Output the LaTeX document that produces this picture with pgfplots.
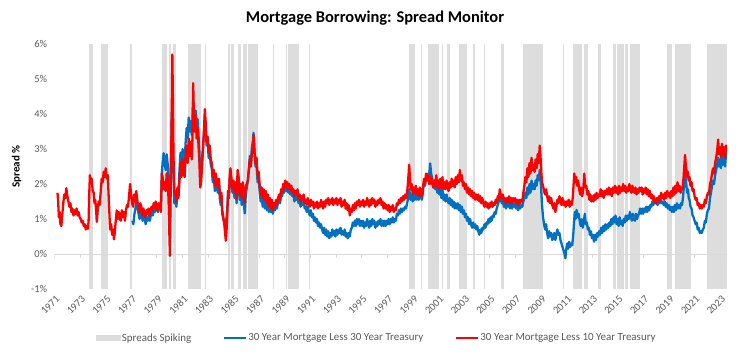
\documentclass[border=0pt]{standalone}
\usepackage{pgfplots}
\usepackage{pgfplotstable}
\pgfplotsset{compat=1.18}
\usepackage{fontspec}
\setmainfont{Carlito}
\definecolor{spk}{HTML}{DDDDDD}
\definecolor{mblue}{HTML}{0070C0}
\definecolor{mred}{HTML}{FF0000}
\definecolor{txt}{HTML}{595959}
\definecolor{zl}{HTML}{D9D9D9}

\pgfplotstableread[row sep=\\]{
x y\\
1971.25 1.75\\ 1971.30 1.50\\ 1971.36 1.05\\ 1971.42 1.20\\ 1971.48 0.85\\ 1971.55 0.80\\ 1971.62 1.10\\ 1971.70 1.45\\ 1971.78 1.70\\ 1971.86 1.60\\
1971.94 1.88\\ 1972.02 1.65\\ 1972.10 1.50\\ 1972.18 1.35\\ 1972.26 1.45\\ 1972.34 1.20\\ 1972.42 1.30\\ 1972.50 1.10\\ 1972.58 1.25\\ 1972.66 1.15\\
1972.74 1.30\\ 1972.82 1.10\\ 1972.90 1.20\\ 1972.98 1.05\\ 1973.06 1.00\\ 1973.14 0.90\\ 1973.22 0.95\\ 1973.30 0.80\\ 1973.38 0.85\\ 1973.46 0.70\\
1973.54 0.80\\ 1973.62 0.72\\ 1973.68 0.95\\ 1973.72 1.60\\ 1973.78 2.25\\ 1973.84 2.05\\ 1973.92 2.15\\ 1974.00 1.80\\ 1974.08 1.75\\ 1974.14 1.45\\
1974.20 1.55\\ 1974.26 1.30\\ 1974.32 0.92\\ 1974.38 1.20\\ 1974.46 1.50\\ 1974.54 1.40\\ 1974.62 1.75\\ 1974.70 2.15\\ 1974.78 2.05\\ 1974.86 2.35\\
1974.94 2.20\\ 1975.02 2.45\\ 1975.10 2.15\\ 1975.18 2.25\\ 1975.24 1.70\\ 1975.30 1.20\\ 1975.36 0.70\\ 1975.44 0.85\\ 1975.52 0.55\\ 1975.60 0.70\\
1975.66 0.42\\ 1975.72 0.60\\ 1975.80 0.95\\ 1975.88 1.25\\ 1975.96 1.00\\ 1976.04 1.20\\ 1976.12 1.00\\ 1976.20 0.95\\ 1976.28 1.25\\ 1976.36 1.05\\
1976.44 1.20\\ 1976.52 0.95\\ 1976.60 1.25\\ 1976.68 1.40\\ 1976.76 1.35\\ 1976.84 1.65\\ 1976.92 2.00\\ 1977.00 1.70\\ 1977.08 1.45\\ 1977.16 1.35\\
1977.24 1.70\\ 1977.32 1.50\\ 1977.40 1.80\\ 1977.48 1.55\\ 1977.56 1.35\\ 1977.64 1.20\\ 1977.72 1.45\\ 1977.80 1.35\\ 1977.88 1.10\\ 1977.96 1.30\\
1978.04 1.15\\ 1978.12 1.05\\ 1978.20 1.25\\ 1978.28 1.15\\ 1978.36 1.30\\ 1978.44 1.10\\ 1978.52 1.25\\ 1978.60 1.35\\ 1978.68 1.25\\ 1978.76 1.45\\
1978.84 1.30\\ 1978.92 1.50\\ 1979.00 1.35\\ 1979.08 1.25\\ 1979.16 1.45\\ 1979.24 1.40\\ 1979.32 1.20\\ 1979.40 2.30\\ 1979.46 2.20\\ 1979.54 1.85\\
1979.62 2.05\\ 1979.70 1.80\\ 1979.78 2.30\\ 1979.86 2.10\\ 1979.92 1.60\\ 1979.98 0.70\\ 1980.03 -0.05\\ 1980.08 1.50\\ 1980.13 2.80\\ 1980.18 4.20\\
1980.22 5.70\\ 1980.26 4.60\\ 1980.31 2.80\\ 1980.38 1.70\\ 1980.46 1.80\\ 1980.54 1.50\\ 1980.62 1.90\\ 1980.70 1.60\\ 1980.78 2.10\\ 1980.86 2.60\\
1980.94 2.20\\ 1981.02 2.70\\ 1981.10 2.30\\ 1981.18 2.20\\ 1981.26 2.80\\ 1981.34 3.10\\ 1981.42 2.60\\ 1981.50 3.30\\ 1981.58 2.80\\ 1981.66 3.20\\
1981.74 2.70\\ 1981.80 3.40\\ 1981.85 4.88\\ 1981.90 4.00\\ 1981.96 3.50\\ 1982.04 3.95\\ 1982.12 3.30\\ 1982.20 3.60\\ 1982.28 3.00\\ 1982.34 2.60\\
1982.40 1.90\\ 1982.46 2.00\\ 1982.54 2.50\\ 1982.62 3.00\\ 1982.70 3.60\\ 1982.76 4.14\\ 1982.82 3.80\\ 1982.90 3.20\\ 1982.98 3.35\\ 1983.06 2.90\\
1983.14 3.10\\ 1983.22 2.70\\ 1983.30 2.60\\ 1983.38 2.20\\ 1983.46 2.40\\ 1983.54 1.95\\ 1983.62 2.30\\ 1983.70 2.05\\ 1983.78 1.90\\ 1983.86 2.15\\
1983.94 1.70\\ 1984.00 1.55\\ 1984.06 1.75\\ 1984.12 1.25\\ 1984.20 1.05\\ 1984.28 0.85\\ 1984.34 0.60\\ 1984.40 0.38\\ 1984.46 0.70\\ 1984.52 1.20\\
1984.58 1.80\\ 1984.64 1.60\\ 1984.70 2.20\\ 1984.76 2.45\\ 1984.84 2.15\\ 1984.92 1.85\\ 1985.00 2.10\\ 1985.08 1.75\\ 1985.16 2.05\\ 1985.24 1.60\\
1985.32 2.40\\ 1985.40 2.20\\ 1985.48 1.70\\ 1985.56 2.00\\ 1985.64 1.60\\ 1985.72 2.05\\ 1985.80 1.70\\ 1985.88 1.45\\ 1985.96 1.95\\ 1986.04 2.00\\
1986.12 2.10\\ 1986.20 2.40\\ 1986.28 2.70\\ 1986.36 2.50\\ 1986.44 2.90\\ 1986.52 3.10\\ 1986.58 3.40\\ 1986.64 2.90\\ 1986.72 2.60\\ 1986.80 2.75\\
1986.88 2.25\\ 1986.96 2.35\\ 1987.04 2.00\\ 1987.12 1.70\\ 1987.20 1.90\\ 1987.28 1.60\\ 1987.36 1.85\\ 1987.44 1.55\\ 1987.52 1.80\\ 1987.60 1.45\\
1987.68 1.70\\ 1987.76 1.35\\ 1987.84 1.60\\ 1987.92 1.30\\ 1988.00 1.55\\ 1988.08 1.25\\ 1988.16 1.45\\ 1988.24 1.35\\ 1988.32 1.55\\ 1988.40 1.40\\
1988.48 1.60\\ 1988.56 1.70\\ 1988.64 1.55\\ 1988.72 1.85\\ 1988.80 1.75\\ 1988.88 2.00\\ 1988.96 1.85\\ 1989.04 2.10\\ 1989.12 1.90\\ 1989.20 2.05\\
1989.28 1.85\\ 1989.36 2.00\\ 1989.44 1.80\\ 1989.52 1.95\\ 1989.60 1.75\\ 1989.68 1.85\\ 1989.76 1.65\\ 1989.84 1.80\\ 1989.92 1.70\\ 1990.00 1.85\\
1990.08 1.60\\ 1990.16 1.70\\ 1990.24 1.50\\ 1990.32 1.65\\ 1990.40 1.55\\ 1990.48 1.70\\ 1990.56 1.45\\ 1990.64 1.55\\ 1990.72 1.40\\ 1990.80 1.60\\
1990.88 1.45\\ 1990.96 1.35\\ 1991.04 1.55\\ 1991.12 1.40\\ 1991.20 1.50\\ 1991.28 1.30\\ 1991.36 1.45\\ 1991.44 1.35\\ 1991.52 1.50\\ 1991.60 1.30\\
1991.68 1.45\\ 1991.76 1.35\\ 1991.84 1.55\\ 1991.92 1.40\\ 1992.00 1.30\\ 1992.08 1.50\\ 1992.16 1.35\\ 1992.24 1.55\\ 1992.32 1.45\\ 1992.40 1.60\\
1992.48 1.40\\ 1992.56 1.55\\ 1992.64 1.45\\ 1992.72 1.60\\ 1992.80 1.40\\ 1992.88 1.55\\ 1992.96 1.45\\ 1993.04 1.60\\ 1993.12 1.40\\ 1993.20 1.55\\
1993.28 1.45\\ 1993.36 1.60\\ 1993.44 1.35\\ 1993.52 1.50\\ 1993.60 1.40\\ 1993.68 1.55\\ 1993.76 1.30\\ 1993.84 1.45\\ 1993.92 1.25\\ 1994.00 1.40\\
1994.08 1.10\\ 1994.16 1.30\\ 1994.24 1.20\\ 1994.32 1.40\\ 1994.40 1.25\\ 1994.48 1.45\\ 1994.56 1.30\\ 1994.64 1.50\\ 1994.72 1.40\\ 1994.80 1.55\\
1994.88 1.35\\ 1994.96 1.50\\ 1995.04 1.40\\ 1995.12 1.55\\ 1995.20 1.35\\ 1995.28 1.50\\ 1995.36 1.40\\ 1995.44 1.60\\ 1995.52 1.45\\ 1995.60 1.35\\
1995.68 1.55\\ 1995.76 1.40\\ 1995.84 1.60\\ 1995.92 1.45\\ 1996.00 1.55\\ 1996.08 1.35\\ 1996.16 1.50\\ 1996.24 1.40\\ 1996.32 1.55\\ 1996.40 1.45\\
1996.48 1.60\\ 1996.56 1.40\\ 1996.64 1.50\\ 1996.72 1.30\\ 1996.80 1.45\\ 1996.88 1.30\\ 1996.96 1.40\\ 1997.04 1.25\\ 1997.12 1.40\\ 1997.20 1.20\\
1997.28 1.35\\ 1997.36 1.25\\ 1997.44 1.40\\ 1997.52 1.20\\ 1997.60 1.30\\ 1997.68 1.25\\ 1997.76 1.45\\ 1997.84 1.40\\ 1997.92 1.55\\ 1998.00 1.45\\
1998.08 1.60\\ 1998.16 1.50\\ 1998.24 1.65\\ 1998.32 1.55\\ 1998.40 1.70\\ 1998.48 1.60\\ 1998.56 1.75\\ 1998.62 2.00\\ 1998.68 2.30\\ 1998.72 2.55\\
1998.78 2.20\\ 1998.84 1.85\\ 1998.92 2.00\\ 1999.00 1.70\\ 1999.08 1.90\\ 1999.16 1.75\\ 1999.24 1.95\\ 1999.32 1.70\\ 1999.40 1.85\\ 1999.48 1.65\\
1999.56 1.90\\ 1999.64 1.75\\ 1999.72 1.65\\ 1999.80 1.90\\ 1999.88 2.15\\ 1999.96 2.00\\ 2000.04 2.30\\ 2000.12 2.10\\ 2000.20 2.25\\ 2000.28 2.00\\
2000.36 2.20\\ 2000.44 2.00\\ 2000.52 2.15\\ 2000.60 1.90\\ 2000.68 2.10\\ 2000.76 1.95\\ 2000.84 2.25\\ 2000.92 1.90\\ 2001.00 2.10\\ 2001.08 1.85\\
2001.16 2.15\\ 2001.24 1.90\\ 2001.32 2.20\\ 2001.40 1.85\\ 2001.48 2.05\\ 2001.56 1.85\\ 2001.64 2.10\\ 2001.72 1.90\\ 2001.80 1.80\\ 2001.88 2.05\\
2001.96 1.90\\ 2002.04 2.15\\ 2002.12 1.95\\ 2002.20 2.10\\ 2002.28 1.90\\ 2002.36 2.20\\ 2002.44 2.00\\ 2002.52 2.25\\ 2002.60 2.05\\ 2002.68 2.40\\
2002.76 2.10\\ 2002.84 2.25\\ 2002.92 1.95\\ 2003.00 2.05\\ 2003.08 1.85\\ 2003.16 2.00\\ 2003.24 1.75\\ 2003.32 1.90\\ 2003.40 1.70\\ 2003.48 1.85\\
2003.56 1.65\\ 2003.64 1.80\\ 2003.72 1.60\\ 2003.80 1.75\\ 2003.88 1.55\\ 2003.96 1.70\\ 2004.04 1.55\\ 2004.12 1.70\\ 2004.20 1.50\\ 2004.28 1.65\\
2004.36 1.45\\ 2004.44 1.60\\ 2004.52 1.45\\ 2004.60 1.35\\ 2004.68 1.50\\ 2004.76 1.35\\ 2004.84 1.45\\ 2004.92 1.30\\ 2005.00 1.45\\ 2005.08 1.35\\
2005.16 1.50\\ 2005.24 1.35\\ 2005.32 1.45\\ 2005.40 1.40\\ 2005.48 1.55\\ 2005.56 1.45\\ 2005.64 1.65\\ 2005.72 1.55\\ 2005.80 1.85\\ 2005.88 1.70\\
2005.96 1.60\\ 2006.04 1.70\\ 2006.12 1.50\\ 2006.20 1.60\\ 2006.28 1.45\\ 2006.36 1.60\\ 2006.44 1.50\\ 2006.52 1.65\\ 2006.60 1.45\\ 2006.68 1.60\\
2006.76 1.45\\ 2006.84 1.60\\ 2006.92 1.50\\ 2007.00 1.60\\ 2007.08 1.45\\ 2007.16 1.55\\ 2007.24 1.40\\ 2007.32 1.55\\ 2007.40 1.45\\ 2007.48 1.55\\
2007.56 1.50\\ 2007.64 1.75\\ 2007.72 1.95\\ 2007.80 2.20\\ 2007.88 2.05\\ 2007.96 2.45\\ 2008.04 2.20\\ 2008.12 2.60\\ 2008.20 2.30\\ 2008.28 2.75\\
2008.36 2.40\\ 2008.44 2.55\\ 2008.52 2.35\\ 2008.60 2.70\\ 2008.68 2.45\\ 2008.76 2.85\\ 2008.84 2.60\\ 2008.92 3.10\\ 2008.98 2.80\\ 2009.04 2.35\\
2009.10 2.05\\ 2009.18 1.95\\ 2009.26 1.80\\ 2009.34 1.70\\ 2009.42 1.85\\ 2009.50 1.65\\ 2009.58 1.50\\ 2009.66 1.65\\ 2009.74 1.45\\ 2009.82 1.60\\
2009.90 1.40\\ 2009.98 1.30\\ 2010.06 1.45\\ 2010.14 1.20\\ 2010.22 1.35\\ 2010.30 1.55\\ 2010.38 1.45\\ 2010.46 1.65\\ 2010.54 1.55\\ 2010.62 1.40\\
2010.70 1.60\\ 2010.78 1.40\\ 2010.86 1.50\\ 2010.94 1.35\\ 2011.02 1.50\\ 2011.10 1.40\\ 2011.18 1.55\\ 2011.26 1.35\\ 2011.34 1.50\\ 2011.42 1.40\\
2011.50 1.60\\ 2011.56 1.95\\ 2011.62 2.30\\ 2011.68 2.05\\ 2011.76 2.20\\ 2011.84 1.95\\ 2011.92 2.10\\ 2012.00 1.85\\ 2012.08 1.70\\ 2012.16 1.90\\
2012.24 1.65\\ 2012.32 1.85\\ 2012.40 2.30\\ 2012.48 1.90\\ 2012.56 1.95\\ 2012.64 1.70\\ 2012.72 1.80\\ 2012.80 1.55\\ 2012.88 1.70\\ 2012.96 1.50\\
2013.04 1.65\\ 2013.12 1.50\\ 2013.20 1.70\\ 2013.28 1.55\\ 2013.36 1.75\\ 2013.44 1.60\\ 2013.52 1.70\\ 2013.60 1.65\\ 2013.68 1.85\\ 2013.76 1.65\\
2013.84 1.80\\ 2013.92 1.60\\ 2014.00 1.80\\ 2014.08 1.70\\ 2014.16 1.85\\ 2014.24 1.70\\ 2014.32 1.90\\ 2014.40 1.70\\ 2014.48 1.85\\ 2014.56 1.65\\
2014.64 1.90\\ 2014.72 1.75\\ 2014.80 1.95\\ 2014.88 1.75\\ 2014.96 1.90\\ 2015.04 1.70\\ 2015.12 1.95\\ 2015.20 1.75\\ 2015.28 1.90\\ 2015.36 1.80\\
2015.44 2.00\\ 2015.52 1.80\\ 2015.60 1.95\\ 2015.68 1.75\\ 2015.76 1.90\\ 2015.84 1.80\\ 2015.92 2.00\\ 2016.00 1.85\\ 2016.08 1.75\\ 2016.16 1.95\\
2016.24 1.80\\ 2016.32 1.75\\ 2016.40 1.90\\ 2016.48 1.70\\ 2016.56 1.85\\ 2016.64 1.75\\ 2016.72 1.90\\ 2016.80 1.80\\ 2016.88 1.90\\ 2016.96 1.70\\
2017.04 1.85\\ 2017.12 1.75\\ 2017.20 1.90\\ 2017.28 1.70\\ 2017.36 1.85\\ 2017.44 1.65\\ 2017.52 1.80\\ 2017.60 1.60\\ 2017.68 1.70\\ 2017.76 1.55\\
2017.84 1.65\\ 2017.92 1.50\\ 2018.00 1.45\\ 2018.08 1.60\\ 2018.16 1.50\\ 2018.24 1.65\\ 2018.32 1.55\\ 2018.40 1.75\\ 2018.48 1.60\\ 2018.56 1.70\\
2018.64 1.55\\ 2018.72 1.75\\ 2018.80 1.60\\ 2018.88 1.80\\ 2018.96 1.65\\ 2019.04 1.75\\ 2019.12 1.60\\ 2019.20 1.80\\ 2019.28 1.65\\ 2019.36 1.90\\
2019.44 1.70\\ 2019.52 1.95\\ 2019.60 1.75\\ 2019.68 2.05\\ 2019.76 1.80\\ 2019.84 1.95\\ 2019.92 1.75\\ 2020.00 1.90\\ 2020.08 1.85\\ 2020.16 2.20\\
2020.22 2.55\\ 2020.27 2.83\\ 2020.32 2.60\\ 2020.38 2.40\\ 2020.44 2.20\\ 2020.50 2.35\\ 2020.56 2.10\\ 2020.62 2.20\\ 2020.70 1.95\\ 2020.78 2.05\\
2020.86 1.80\\ 2020.94 1.85\\ 2021.02 1.65\\ 2021.10 1.55\\ 2021.18 1.60\\ 2021.26 1.40\\ 2021.34 1.45\\ 2021.42 1.30\\ 2021.50 1.40\\ 2021.58 1.30\\
2021.66 1.40\\ 2021.74 1.35\\ 2021.82 1.55\\ 2021.90 1.45\\ 2021.98 1.65\\ 2022.06 1.75\\ 2022.14 1.70\\ 2022.22 2.00\\ 2022.30 2.10\\ 2022.38 2.30\\
2022.46 2.45\\ 2022.54 2.30\\ 2022.62 2.60\\ 2022.70 2.75\\ 2022.78 2.95\\ 2022.86 3.27\\ 2022.92 2.85\\ 2023.00 3.05\\ 2023.08 2.75\\ 2023.16 3.15\\
2023.24 2.85\\ 2023.32 3.05\\ 2023.40 2.75\\ 2023.48 3.10\\ 2023.55 2.95\\
}\redtab

\pgfplotstableread[row sep=\\]{
x y\\
1977.10 0.95\\ 1977.18 0.85\\ 1977.26 1.15\\ 1977.34 1.30\\ 1977.42 1.55\\ 1977.50 1.35\\ 1977.58 1.15\\ 1977.66 1.00\\ 1977.74 1.25\\ 1977.82 1.15\\
1977.90 0.95\\ 1977.98 1.10\\ 1978.06 1.00\\ 1978.14 0.85\\ 1978.22 1.05\\ 1978.30 0.95\\ 1978.38 1.10\\ 1978.46 0.95\\ 1978.54 1.10\\ 1978.62 1.20\\
1978.70 1.10\\ 1978.78 1.30\\ 1978.86 1.20\\ 1978.94 1.40\\ 1979.02 1.30\\ 1979.10 1.20\\ 1979.18 1.40\\ 1979.26 1.35\\ 1979.34 1.45\\ 1979.40 2.30\\
1979.46 2.60\\ 1979.54 2.88\\ 1979.62 2.60\\ 1979.70 2.40\\ 1979.78 2.85\\ 1979.86 2.55\\ 1979.92 2.00\\ 1979.98 1.40\\ 1980.03 0.90\\ 1980.08 1.90\\
1980.13 3.00\\ 1980.18 4.05\\ 1980.22 3.90\\ 1980.26 3.20\\ 1980.31 2.20\\ 1980.38 1.45\\ 1980.46 1.55\\ 1980.54 1.35\\ 1980.62 1.80\\ 1980.70 1.70\\
1980.78 2.40\\ 1980.86 2.90\\ 1980.94 2.60\\ 1981.02 3.00\\ 1981.10 2.70\\ 1981.18 2.60\\ 1981.26 3.20\\ 1981.34 3.60\\ 1981.42 3.30\\ 1981.50 3.90\\
1981.58 3.50\\ 1981.66 3.80\\ 1981.74 3.40\\ 1981.80 3.90\\ 1981.85 4.40\\ 1981.90 4.00\\ 1981.96 3.70\\ 1982.04 4.10\\ 1982.12 3.60\\ 1982.20 3.85\\
1982.28 3.30\\ 1982.34 2.90\\ 1982.40 2.10\\ 1982.46 2.20\\ 1982.54 2.70\\ 1982.62 3.10\\ 1982.70 3.50\\ 1982.76 3.90\\ 1982.82 3.60\\ 1982.90 3.10\\
1982.98 3.20\\ 1983.06 2.75\\ 1983.14 2.95\\ 1983.22 2.55\\ 1983.30 2.45\\ 1983.38 2.05\\ 1983.46 2.25\\ 1983.54 1.80\\ 1983.62 2.15\\ 1983.70 1.90\\
1983.78 1.75\\ 1983.86 2.00\\ 1983.94 1.55\\ 1984.00 1.40\\ 1984.06 1.60\\ 1984.12 1.15\\ 1984.20 1.00\\ 1984.28 0.90\\ 1984.34 0.85\\ 1984.40 0.95\\
1984.46 1.05\\ 1984.52 1.35\\ 1984.58 1.80\\ 1984.64 1.60\\ 1984.70 2.10\\ 1984.76 2.35\\ 1984.84 2.05\\ 1984.92 1.75\\ 1985.00 1.95\\ 1985.08 1.60\\
1985.16 1.90\\ 1985.24 1.45\\ 1985.32 2.20\\ 1985.40 2.05\\ 1985.48 1.55\\ 1985.56 1.80\\ 1985.64 1.40\\ 1985.72 1.85\\ 1985.80 1.45\\ 1985.88 1.16\\
1985.96 1.70\\ 1986.04 1.90\\ 1986.12 2.10\\ 1986.20 2.45\\ 1986.28 2.80\\ 1986.36 2.65\\ 1986.44 3.05\\ 1986.52 3.25\\ 1986.56 3.46\\ 1986.64 2.95\\
1986.72 2.50\\ 1986.80 2.55\\ 1986.88 2.05\\ 1986.96 2.15\\ 1987.04 1.80\\ 1987.12 1.50\\ 1987.20 1.65\\ 1987.28 1.35\\ 1987.36 1.60\\ 1987.44 1.30\\
1987.52 1.55\\ 1987.60 1.25\\ 1987.68 1.50\\ 1987.76 1.20\\ 1987.84 1.45\\ 1987.92 1.20\\ 1988.00 1.40\\ 1988.08 1.15\\ 1988.16 1.35\\ 1988.24 1.25\\
1988.32 1.45\\ 1988.40 1.30\\ 1988.48 1.50\\ 1988.56 1.60\\ 1988.64 1.45\\ 1988.72 1.75\\ 1988.80 1.65\\ 1988.88 1.90\\ 1988.96 1.75\\ 1989.04 2.00\\
1989.12 1.80\\ 1989.20 1.95\\ 1989.28 1.75\\ 1989.36 1.90\\ 1989.44 1.70\\ 1989.52 1.85\\ 1989.60 1.65\\ 1989.68 1.70\\ 1989.76 1.50\\ 1989.84 1.65\\
1989.92 1.55\\ 1990.00 1.70\\ 1990.08 1.45\\ 1990.16 1.55\\ 1990.24 1.35\\ 1990.32 1.50\\ 1990.40 1.40\\ 1990.48 1.55\\ 1990.56 1.30\\ 1990.64 1.35\\
1990.72 1.20\\ 1990.80 1.35\\ 1990.88 1.20\\ 1990.96 1.10\\ 1991.04 1.25\\ 1991.12 1.05\\ 1991.20 1.15\\ 1991.28 0.95\\ 1991.36 1.05\\ 1991.44 0.90\\
1991.52 1.00\\ 1991.60 0.80\\ 1991.68 0.90\\ 1991.76 0.75\\ 1991.84 0.85\\ 1991.92 0.70\\ 1992.00 0.60\\ 1992.08 0.75\\ 1992.16 0.55\\ 1992.24 0.70\\
1992.32 0.50\\ 1992.40 0.65\\ 1992.48 0.45\\ 1992.56 0.60\\ 1992.64 0.50\\ 1992.72 0.70\\ 1992.80 0.55\\ 1992.88 0.65\\ 1992.96 0.50\\ 1993.04 0.70\\
1993.12 0.55\\ 1993.20 0.70\\ 1993.28 0.60\\ 1993.36 0.75\\ 1993.44 0.55\\ 1993.52 0.65\\ 1993.60 0.55\\ 1993.68 0.70\\ 1993.76 0.50\\ 1993.84 0.60\\
1993.92 0.45\\ 1994.00 0.60\\ 1994.08 0.50\\ 1994.16 0.70\\ 1994.24 0.75\\ 1994.32 0.90\\ 1994.40 0.80\\ 1994.48 0.95\\ 1994.56 0.80\\ 1994.64 1.00\\
1994.72 0.85\\ 1994.80 1.00\\ 1994.88 0.80\\ 1994.96 0.95\\ 1995.04 0.80\\ 1995.12 0.95\\ 1995.20 0.75\\ 1995.28 0.90\\ 1995.36 0.80\\ 1995.44 1.00\\
1995.52 0.85\\ 1995.60 0.75\\ 1995.68 0.95\\ 1995.76 0.80\\ 1995.84 1.00\\ 1995.92 0.85\\ 1996.00 0.95\\ 1996.08 0.75\\ 1996.16 0.90\\ 1996.24 0.80\\
1996.32 0.95\\ 1996.40 0.85\\ 1996.48 1.00\\ 1996.56 0.80\\ 1996.64 0.95\\ 1996.72 0.80\\ 1996.80 0.95\\ 1996.88 0.80\\ 1996.96 0.95\\ 1997.04 0.85\\
1997.12 1.00\\ 1997.20 0.85\\ 1997.28 1.00\\ 1997.36 0.90\\ 1997.44 1.05\\ 1997.52 0.90\\ 1997.60 1.00\\ 1997.68 0.95\\ 1997.76 1.15\\ 1997.84 1.10\\
1997.92 1.25\\ 1998.00 1.15\\ 1998.08 1.30\\ 1998.16 1.20\\ 1998.24 1.30\\ 1998.32 1.25\\ 1998.40 1.35\\ 1998.48 1.30\\ 1998.56 1.45\\ 1998.62 1.55\\
1998.68 1.70\\ 1998.72 1.85\\ 1998.78 1.70\\ 1998.84 1.55\\ 1998.92 1.70\\ 1999.00 1.50\\ 1999.08 1.70\\ 1999.16 1.55\\ 1999.24 1.75\\ 1999.32 1.55\\
1999.40 1.70\\ 1999.48 1.55\\ 1999.56 1.80\\ 1999.64 1.65\\ 1999.72 1.55\\ 1999.80 1.80\\ 1999.88 2.05\\ 1999.96 1.95\\ 2000.04 2.20\\ 2000.12 2.10\\
2000.20 2.30\\ 2000.28 2.20\\ 2000.36 2.59\\ 2000.44 2.30\\ 2000.52 2.15\\ 2000.60 1.90\\ 2000.68 2.05\\ 2000.76 1.85\\ 2000.84 2.10\\ 2000.92 1.75\\
2001.00 1.95\\ 2001.08 1.70\\ 2001.16 1.90\\ 2001.24 1.60\\ 2001.32 1.85\\ 2001.40 1.55\\ 2001.48 1.70\\ 2001.56 1.50\\ 2001.64 1.70\\ 2001.72 1.55\\
2001.80 1.45\\ 2001.88 1.60\\ 2001.96 1.40\\ 2002.04 1.55\\ 2002.12 1.35\\ 2002.20 1.50\\ 2002.28 1.30\\ 2002.36 1.45\\ 2002.44 1.30\\ 2002.52 1.45\\
2002.60 1.25\\ 2002.68 1.40\\ 2002.76 1.20\\ 2002.84 1.35\\ 2002.92 1.15\\ 2003.00 1.25\\ 2003.08 1.05\\ 2003.16 1.15\\ 2003.24 0.95\\ 2003.32 1.05\\
2003.40 0.85\\ 2003.48 1.00\\ 2003.56 0.85\\ 2003.64 0.75\\ 2003.72 0.90\\ 2003.80 0.75\\ 2003.88 0.85\\ 2003.96 0.70\\ 2004.04 0.80\\ 2004.12 0.65\\
2004.20 0.55\\ 2004.28 0.70\\ 2004.36 0.60\\ 2004.44 0.75\\ 2004.52 0.70\\ 2004.60 0.85\\ 2004.68 0.75\\ 2004.76 0.90\\ 2004.84 0.85\\ 2004.92 1.00\\
2005.00 0.90\\ 2005.08 1.05\\ 2005.16 0.95\\ 2005.24 1.10\\ 2005.32 1.05\\ 2005.40 1.20\\ 2005.48 1.15\\ 2005.56 1.30\\ 2005.64 1.40\\ 2005.72 1.50\\
2005.80 1.69\\ 2005.88 1.55\\ 2005.96 1.45\\ 2006.04 1.55\\ 2006.12 1.35\\ 2006.20 1.45\\ 2006.28 1.30\\ 2006.36 1.45\\ 2006.44 1.35\\ 2006.52 1.50\\
2006.60 1.30\\ 2006.68 1.45\\ 2006.76 1.30\\ 2006.84 1.45\\ 2006.92 1.35\\ 2007.00 1.45\\ 2007.08 1.30\\ 2007.16 1.40\\ 2007.24 1.25\\ 2007.32 1.40\\
2007.40 1.30\\ 2007.48 1.40\\ 2007.56 1.35\\ 2007.64 1.50\\ 2007.72 1.60\\ 2007.80 1.75\\ 2007.88 1.60\\ 2007.96 1.90\\ 2008.04 1.70\\ 2008.12 2.00\\
2008.20 1.75\\ 2008.28 2.10\\ 2008.36 1.85\\ 2008.44 2.00\\ 2008.52 1.85\\ 2008.60 2.10\\ 2008.68 1.95\\ 2008.76 2.25\\ 2008.84 2.10\\ 2008.92 2.40\\
2008.98 2.20\\ 2009.04 1.80\\ 2009.10 1.40\\ 2009.18 1.05\\ 2009.26 0.85\\ 2009.34 0.70\\ 2009.42 0.85\\ 2009.50 0.60\\ 2009.58 0.45\\ 2009.66 0.65\\
2009.74 0.50\\ 2009.82 0.60\\ 2009.90 0.40\\ 2009.98 0.45\\ 2010.06 0.60\\ 2010.14 0.40\\ 2010.22 0.55\\ 2010.30 0.70\\ 2010.38 0.55\\ 2010.46 0.60\\
2010.54 0.40\\ 2010.62 0.30\\ 2010.70 0.20\\ 2010.78 0.10\\ 2010.86 0.00\\ 2010.92 -0.12\\ 2010.98 0.10\\ 2011.06 0.30\\ 2011.14 0.15\\ 2011.22 0.35\\
2011.30 0.20\\ 2011.38 0.30\\ 2011.46 0.25\\ 2011.54 0.55\\ 2011.60 0.90\\ 2011.66 1.20\\ 2011.72 1.00\\ 2011.80 1.26\\ 2011.88 1.05\\ 2011.96 1.15\\
2012.04 0.95\\ 2012.12 0.80\\ 2012.20 1.00\\ 2012.28 0.75\\ 2012.36 0.90\\ 2012.44 1.15\\ 2012.52 0.85\\ 2012.60 0.90\\ 2012.68 0.70\\ 2012.76 0.75\\
2012.84 0.55\\ 2012.92 0.65\\ 2013.00 0.45\\ 2013.08 0.55\\ 2013.16 0.35\\ 2013.24 0.55\\ 2013.32 0.40\\ 2013.40 0.60\\ 2013.48 0.50\\ 2013.56 0.65\\
2013.64 0.55\\ 2013.72 0.75\\ 2013.80 0.60\\ 2013.88 0.80\\ 2013.96 0.65\\ 2014.04 0.85\\ 2014.12 0.70\\ 2014.20 0.85\\ 2014.28 0.75\\ 2014.36 0.90\\
2014.44 0.80\\ 2014.52 1.00\\ 2014.60 0.85\\ 2014.68 1.05\\ 2014.76 0.90\\ 2014.84 1.10\\ 2014.92 0.85\\ 2015.00 1.00\\ 2015.08 0.80\\ 2015.16 1.05\\
2015.24 0.85\\ 2015.32 0.95\\ 2015.40 0.80\\ 2015.48 1.00\\ 2015.56 0.90\\ 2015.64 1.10\\ 2015.72 0.95\\ 2015.80 1.10\\ 2015.88 1.00\\ 2015.96 1.20\\
2016.04 1.05\\ 2016.12 0.95\\ 2016.20 1.15\\ 2016.28 1.00\\ 2016.36 0.95\\ 2016.44 1.15\\ 2016.52 1.00\\ 2016.60 1.10\\ 2016.68 1.15\\ 2016.76 1.30\\
2016.84 1.15\\ 2016.92 1.30\\ 2017.00 1.15\\ 2017.08 1.30\\ 2017.16 1.20\\ 2017.24 1.35\\ 2017.32 1.20\\ 2017.40 1.35\\ 2017.48 1.25\\ 2017.56 1.40\\
2017.64 1.35\\ 2017.72 1.50\\ 2017.80 1.40\\ 2017.88 1.55\\ 2017.96 1.45\\ 2018.04 1.50\\ 2018.12 1.40\\ 2018.20 1.50\\ 2018.28 1.45\\ 2018.36 1.55\\
2018.44 1.45\\ 2018.52 1.50\\ 2018.60 1.40\\ 2018.68 1.50\\ 2018.76 1.35\\ 2018.84 1.45\\ 2018.92 1.30\\ 2019.00 1.40\\ 2019.08 1.25\\ 2019.16 1.35\\
2019.24 1.20\\ 2019.32 1.35\\ 2019.40 1.20\\ 2019.48 1.40\\ 2019.56 1.25\\ 2019.64 1.45\\ 2019.72 1.30\\ 2019.80 1.40\\ 2019.88 1.30\\ 2019.96 1.45\\
2020.04 1.40\\ 2020.12 1.65\\ 2020.20 2.00\\ 2020.27 2.40\\ 2020.32 2.15\\ 2020.38 1.95\\ 2020.44 1.75\\ 2020.50 1.85\\ 2020.56 1.60\\ 2020.62 1.55\\
2020.70 1.35\\ 2020.78 1.30\\ 2020.86 1.10\\ 2020.94 1.05\\ 2021.02 0.95\\ 2021.10 0.85\\ 2021.18 0.90\\ 2021.26 0.70\\ 2021.34 0.75\\ 2021.42 0.60\\
2021.50 0.65\\ 2021.58 0.60\\ 2021.66 0.70\\ 2021.74 0.75\\ 2021.82 0.95\\ 2021.90 0.90\\ 2021.98 1.15\\ 2022.06 1.25\\ 2022.14 1.30\\ 2022.22 1.60\\
2022.30 1.75\\ 2022.38 1.95\\ 2022.46 2.10\\ 2022.54 2.00\\ 2022.62 2.25\\ 2022.70 2.40\\ 2022.78 2.55\\ 2022.86 2.75\\ 2022.92 2.50\\ 2023.00 2.70\\
2023.08 2.45\\ 2023.16 2.85\\ 2023.24 2.55\\ 2023.32 2.80\\ 2023.40 2.50\\ 2023.48 2.90\\ 2023.55 2.75\\
}\bluetab

\newcommand{\spike}[2]{\addplot[fill=spk, draw=none, forget plot] coordinates {(#1,-1) (#1,6) (#2,6) (#2,-1)} -- cycle;}

\begin{document}
\begin{tikzpicture}
\useasboundingbox (-54.3bp,-70bp) rectangle (696.7bp,289bp);
\node[font=\bfseries\fontsize{16.5}{19}\selectfont, text=black] at (320.7bp,271bp) {Mortgage Borrowing: Spread Monitor};
\begin{axis}[
  at={(0,0)}, anchor=south west, scale only axis,
  width=672.7bp, height=245bp,
  xmin=1971, xmax=2023.55, ymin=-1, ymax=6,
  axis line style={draw=none},
  major tick length=0pt,
  xtick={1971,1973,1975,1977,1979,1981,1983,1985,1987,1989,1991,1993,1995,1997,1999,2001,2003,2005,2007,2009,2011,2013,2015,2017,2019,2021,2023},
  xticklabels={1971,1973,1975,1977,1979,1981,1983,1985,1987,1989,1991,1993,1995,1997,1999,2001,2003,2005,2007,2009,2011,2013,2015,2017,2019,2021,2023},
  ytick={-1,0,1,2,3,4,5,6},
  yticklabels={-1\%,0\%,1\%,2\%,3\%,4\%,5\%,6\%},
  tick label style={font=\fontsize{10.5}{12}\selectfont, text=txt},
  xticklabel style={xshift=4bp, yshift=-4bp, rotate=45, anchor=east, inner sep=0.5bp},
  xticklabel shift=4bp,
  yticklabel style={inner sep=1pt},
  yticklabel shift=6bp,
  ylabel={Spread \%},
  ylabel style={font=\bfseries\fontsize{11}{13}\selectfont, text=black, at={(axis description cs:-0.056,0.5)}, anchor=center},
  legend columns=3,
  legend cell align=left,
  legend style={at={(0.479,-0.2)}, anchor=center, draw=none, fill=none,
    font=\fontsize{11}{13}\selectfont, text=txt,
    nodes={inner xsep=1bp},
    /tikz/every even column/.append style={column sep=31bp}},
  clip=true,
]
\addlegendimage{legend image code/.code={\fill[spk] (0bp,-2.5bp) rectangle (24bp,2.5bp);}}
\addlegendentry{Spreads Spiking}
\spike{1973.72}{1974.02}
\spike{1974.65}{1975.20}
\spike{1976.91}{1977.05}
\spike{1979.44}{1979.80}
\spike{1979.94}{1980.12}
\spike{1980.27}{1980.51}
\spike{1981.45}{1982.47}
\spike{1982.77}{1982.85}
\spike{1984.57}{1984.70}
\spike{1984.80}{1985.04}
\spike{1985.35}{1985.59}
\spike{1985.74}{1986.05}
\spike{1986.13}{1986.91}
\spike{1988.09}{1988.16}
\spike{1989.10}{1989.18}
\spike{1989.26}{1990.12}
\spike{1990.90}{1990.98}
\spike{1998.71}{1999.18}
\spike{1999.65}{1999.73}
\spike{2000.19}{2001.05}
\spike{2001.29}{2001.37}
\spike{2001.68}{2001.91}
\spike{2002.62}{2003.24}
\spike{2003.71}{2003.87}
\spike{2004.57}{2004.65}
\spike{2005.90}{2006.13}
\spike{2007.61}{2009.18}
\spike{2010.74}{2010.82}
\spike{2011.52}{2012.23}
\spike{2012.38}{2012.70}
\spike{2013.48}{2013.71}
\spike{2014.66}{2014.90}
\spike{2014.98}{2015.52}
\spike{2015.60}{2015.84}
\spike{2016.00}{2016.78}
\spike{2018.86}{2019.26}
\spike{2019.49}{2020.74}
\spike{2021.99}{2022.07}
\spike{2022.07}{2023.55}
\addplot[draw=zl, line width=0.8bp, forget plot] coordinates {(1971,0) (2023.55,0)};
\addplot[ycomb, draw=zl, line width=0.8bp, mark=none, forget plot] coordinates {
(1971,-0.12) (1973,-0.12) (1975,-0.12) (1977,-0.12) (1979,-0.12) (1981,-0.12) (1983,-0.12) (1985,-0.12) (1987,-0.12)
(1989,-0.12) (1991,-0.12) (1993,-0.12) (1995,-0.12) (1997,-0.12) (1999,-0.12) (2001,-0.12) (2003,-0.12) (2005,-0.12)
(2007,-0.12) (2009,-0.12) (2011,-0.12) (2013,-0.12) (2015,-0.12) (2017,-0.12) (2019,-0.12) (2021,-0.12) (2023,-0.12)};
\addplot[mblue, line width=2.3bp, line join=round, mark=none,
  legend image code/.code={\draw[mblue, line width=2bp] (0bp,0bp) -- (22bp,0bp);}] table[x=x, y=y] {\bluetab};
\addlegendentry{30 Year Mortgage Less 30 Year Treasury}
\addplot[mred, line width=2.3bp, line join=round, mark=none,
  legend image code/.code={\draw[mred, line width=2bp] (0bp,0bp) -- (22bp,0bp);}] table[x=x, y=y] {\redtab};
\addlegendentry{30 Year Mortgage Less 10 Year Treasury}
\end{axis}
\end{tikzpicture}
\end{document}
